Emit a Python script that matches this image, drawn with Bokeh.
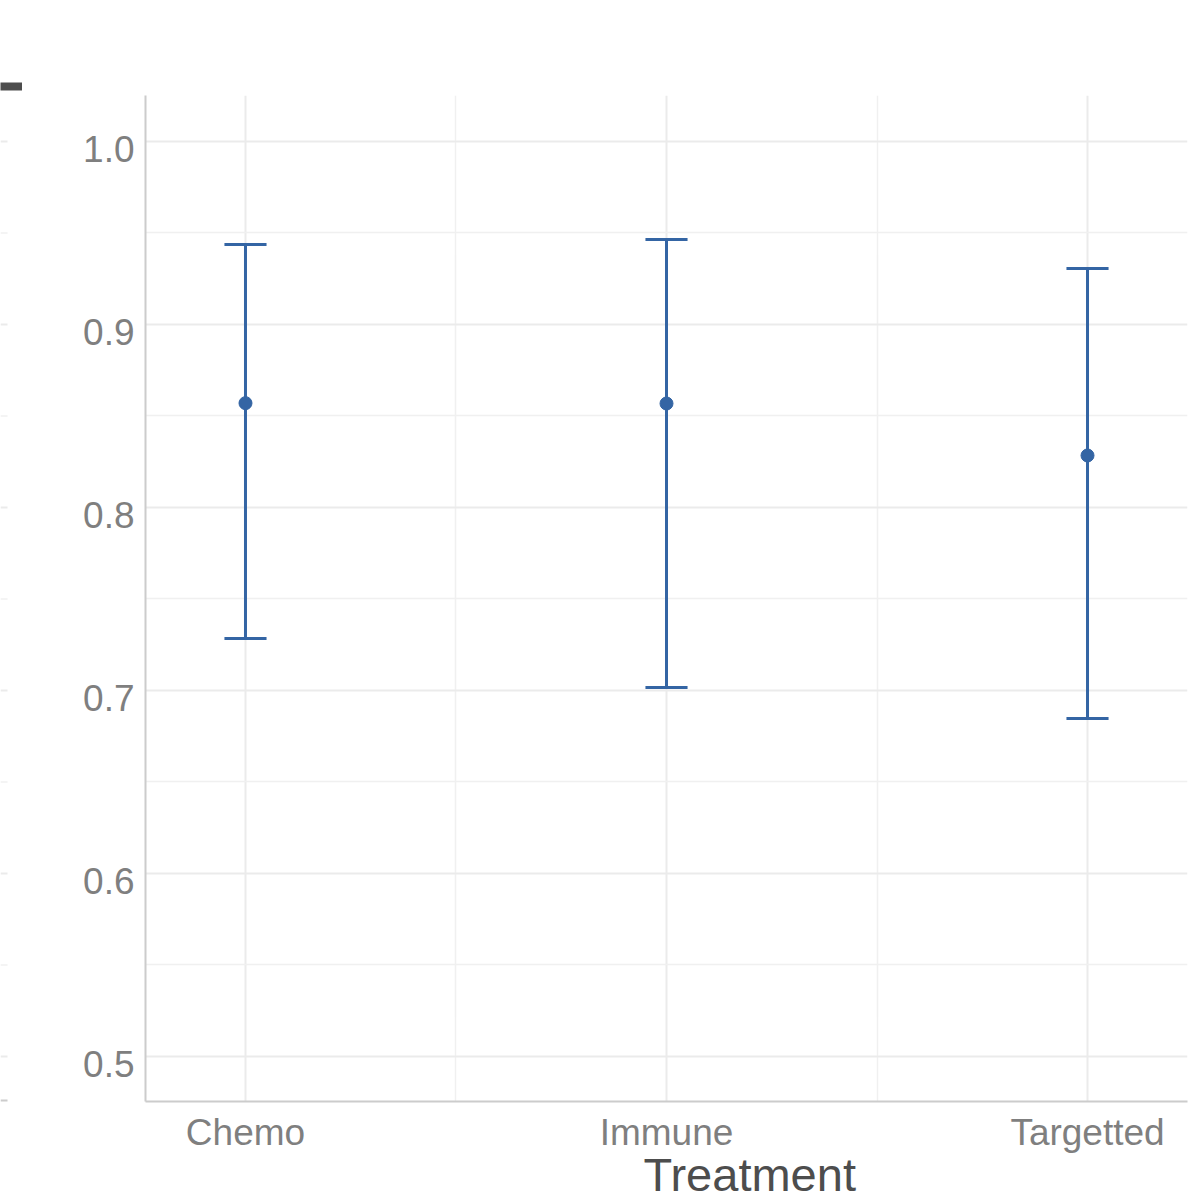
from bokeh.plotting import figure
from bokeh.layouts import row
from bokeh.models import Range1d, FixedTicker, Title, LinearAxis
from bokeh.embed import file_html
from bokeh.resources import INLINE

# ---- data ----
treatments = ["Chemo", "Immune", "Targetted"]
means = [0.857, 0.8568, 0.8284]
lower = [0.7284, 0.7016, 0.6847]
upper = [0.9437, 0.9464, 0.9306]
y_ticks = [0.5, 0.6, 0.7, 0.8, 0.9, 1.0]
y_minor = [0.55, 0.65, 0.75, 0.85, 0.95]
x_title = "Treatment"

xs = list(range(1, len(treatments) + 1))
cap_half = 0.05

BLUE = "#3465A4"
FONT = "Liberation Sans"
Y0, Y1 = 0.4754, 1.0251
PX = 1 / 1830.0  # one pixel in y data units

# ---- small strip on the left: edge of a neighbouring panel ----
s = figure(frame_width=22, frame_height=1006, min_border_left=0, min_border_right=0,
           min_border_top=95, min_border_bottom=99,
           x_range=Range1d(0, 22), y_range=Range1d(Y0, Y1),
           x_axis_location="above", y_axis_type=None,
           output_backend="svg", toolbar_location=None)
s.outline_line_color = None
s.xgrid.visible = False
s.ygrid.visible = False
s.border_fill_color = "white"
s.segment(x0=0, x1=7, y0=y_ticks, y1=y_ticks, line_color="#EBEBEB", line_width=2)
s.segment(x0=0, x1=7, y0=y_minor, y1=y_minor, line_color="#F0F0F0", line_width=1.5)
s.segment(x0=0, x1=7, y0=Y0, y1=Y0, line_color="#CCCCCC", line_width=4)
# dark bar of the neighbouring panel, drawn as one wide tick
s.xaxis.ticker = FixedTicker(ticks=[11], minor_ticks=[])
s.xaxis.axis_line_color = None
s.xaxis.minor_tick_line_color = None
s.xaxis.major_tick_line_color = "#4D4D4D"
s.xaxis.major_tick_line_width = 22
s.xaxis.major_tick_out = 13
s.xaxis.major_tick_in = -5
s.xaxis.major_label_overrides = {11: ""}

# ---- main panel ----
p = figure(frame_width=1042, frame_height=1006,
           min_border_left=123, min_border_right=2,
           min_border_top=95, min_border_bottom=99,
           x_range=Range1d(0.7625, 3.2375), y_range=Range1d(Y0, Y1),
           output_backend="svg", toolbar_location=None)

p.outline_line_color = None
p.background_fill_color = "white"
p.border_fill_color = "white"

# grids
p.xaxis.ticker = FixedTicker(ticks=xs, minor_ticks=[1.5, 2.5])
p.yaxis.ticker = FixedTicker(ticks=y_ticks, minor_ticks=y_minor)
p.xgrid.ticker = FixedTicker(ticks=xs, minor_ticks=[1.5, 2.5])
p.ygrid.ticker = FixedTicker(ticks=y_ticks, minor_ticks=y_minor)
for g in (p.xgrid, p.ygrid):
    g.grid_line_color = "#EBEBEB"
    g.grid_line_width = 2
    g.minor_grid_line_color = "#F0F0F0"
    g.minor_grid_line_width = 1.5

# axes
for ax in (p.xaxis, p.yaxis):
    ax.axis_line_color = "#CCCCCC"
    ax.axis_line_width = 2
    ax.major_tick_line_color = None
    ax.minor_tick_line_color = None
    ax.major_label_text_font = FONT
    ax.major_label_text_font_size = "37px"
    ax.major_label_text_color = "#7F7F7F"
p.xaxis.major_label_overrides = {x: t for x, t in zip(xs, treatments)}
p.xaxis.major_label_standoff = 4
# main y axis draws only the line; labels come from a slightly offset axis
p.yaxis.major_label_overrides = {v: "" for v in y_ticks}
p.yaxis.major_label_standoff = 0

shift = 8 * PX
p.extra_y_ranges = {"lbl": Range1d(Y0 + shift, Y1 + shift)}
lab_ax = LinearAxis(y_range_name="lbl", ticker=FixedTicker(ticks=y_ticks, minor_ticks=[]),
                    axis_line_color=None, major_tick_line_color=None,
                    minor_tick_line_color=None, major_label_standoff=-1,
                    major_label_text_font=FONT, major_label_text_font_size="37px",
                    major_label_text_color="#7F7F7F",
                    major_label_overrides={v: f"{v:.1f}" for v in y_ticks})
p.add_layout(lab_ax, "left")

# error bars
p.segment(x0=xs, y0=lower, x1=xs, y1=upper, line_color=BLUE, line_width=3)
p.segment(x0=[x - cap_half for x in xs], y0=lower, x1=[x + cap_half for x in xs], y1=lower,
          line_color=BLUE, line_width=3)
p.segment(x0=[x - cap_half for x in xs], y0=upper, x1=[x + cap_half for x in xs], y1=upper,
          line_color=BLUE, line_width=3)
p.scatter(x=xs, y=means, size=13, fill_color=BLUE, line_color=BLUE)

# axis title (offset to the right as in the reference)
p.add_layout(Title(text=x_title, align="left", offset=498, standoff=-19,
                   text_font=FONT, text_font_size="47px", text_font_style="normal",
                   text_color="#4D4D4D"), "below")

layout = row(s, p, spacing=0)
open("out.html", "w").write(file_html(layout, INLINE))
